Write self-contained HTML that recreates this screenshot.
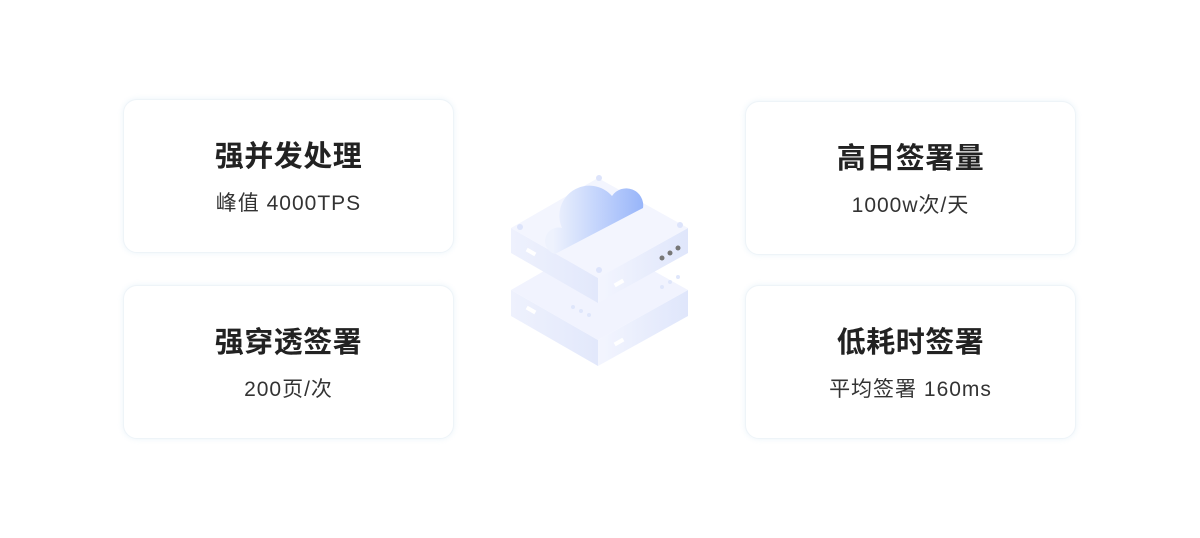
<!DOCTYPE html>
<html><head><meta charset="utf-8"><style>
html,body{margin:0;padding:0;background:#fff;width:1200px;height:538px;overflow:hidden;position:relative;font-family:"Liberation Sans","Noto Sans CJK SC",sans-serif;}
.card{position:absolute;width:331px;height:154px;background:#fff;border:1px solid #eef4f8;border-radius:14px;box-shadow:0 0 6px rgba(220,235,245,.6);box-sizing:border-box;text-align:center;color:#222;}
.t{position:absolute;left:0;right:0;top:37px;font-size:29px;font-weight:bold;line-height:40px;letter-spacing:0.5px;}
.s{position:absolute;left:0;right:0;top:89px;font-size:21px;line-height:30px;color:#333;letter-spacing:1px;}
</style></head><body>
<div class="card" style="left:123px;top:99px"><div class="t">强并发处理</div><div class="s">峰值 4000TPS</div></div>
<div class="card" style="left:123px;top:285px"><div class="t">强穿透签署</div><div class="s">200页/次</div></div>
<div class="card" style="left:745px;top:101px"><div class="t">高日签署量</div><div class="s">1000w次/天</div></div>
<div class="card" style="left:745px;top:285px"><div class="t">低耗时签署</div><div class="s">平均签署 160ms</div></div>
<svg style="position:absolute;left:0;top:0" width="1200" height="538">
<defs>
<linearGradient id="cl" gradientUnits="userSpaceOnUse" x1="553" y1="0" x2="645" y2="0"><stop offset="0" stop-color="#eef2fd"/><stop offset="1" stop-color="#96b4fa"/></linearGradient>
<linearGradient id="lf" x1="0" x2="1"><stop offset="0" stop-color="#eef1fd"/><stop offset="1" stop-color="#e2e8fb"/></linearGradient>
<linearGradient id="rf" x1="0" x2="1"><stop offset="0" stop-color="#f3f5fe"/><stop offset="1" stop-color="#dfe6fb"/></linearGradient>
</defs>
<polygon points="511,290 598,340 598,366 511,316" fill="url(#lf)"/>
<polygon points="598,340 688,290 688,316 598,366" fill="url(#rf)"/>
<polygon points="511,290 598,240 688,290 598,340" fill="#f1f3fe"/>
<polygon points="511,228 598,278 598,303 511,253" fill="url(#lf)"/>
<polygon points="598,278 688,228 688,253 598,303" fill="url(#rf)"/>
<polygon points="511,228 598,178 688,228 598,278" fill="#f3f5fe"/>
<path d="M555,254 A13,13 0 0 1 562,228 A30,30 0 0 1 612,196 A17,17 0 0 1 643,208 Z" fill="url(#cl)"/>
<rect x="526" y="250" width="10" height="4" fill="#fff" transform="rotate(30 531 252)"/>
<rect x="614" y="281" width="10" height="4" fill="#fff" transform="rotate(-30 619 283)"/>
<rect x="526" y="308" width="10" height="4" fill="#fff" transform="rotate(30 531 310)"/>
<rect x="614" y="340" width="10" height="4" fill="#fff" transform="rotate(-30 619 342)"/>
<circle cx="662" cy="258" r="2.5" fill="#777"/><circle cx="670" cy="253" r="2.5" fill="#777"/><circle cx="678" cy="248" r="2.5" fill="#777"/>
<circle cx="662" cy="287" r="2" fill="#dfe6fb"/><circle cx="670" cy="282" r="2" fill="#dfe6fb"/><circle cx="678" cy="277" r="2" fill="#dfe6fb"/>
<circle cx="573" cy="307" r="2" fill="#dfe6fb"/><circle cx="581" cy="311" r="2" fill="#dfe6fb"/><circle cx="589" cy="315" r="2" fill="#dfe6fb"/>
<circle cx="520" cy="227" r="3" fill="#dde4fb"/><circle cx="599" cy="178" r="3" fill="#dde4fb"/><circle cx="680" cy="225" r="3" fill="#dde4fb"/><circle cx="599" cy="270" r="3" fill="#dde4fb"/>
</svg>
</body></html>
